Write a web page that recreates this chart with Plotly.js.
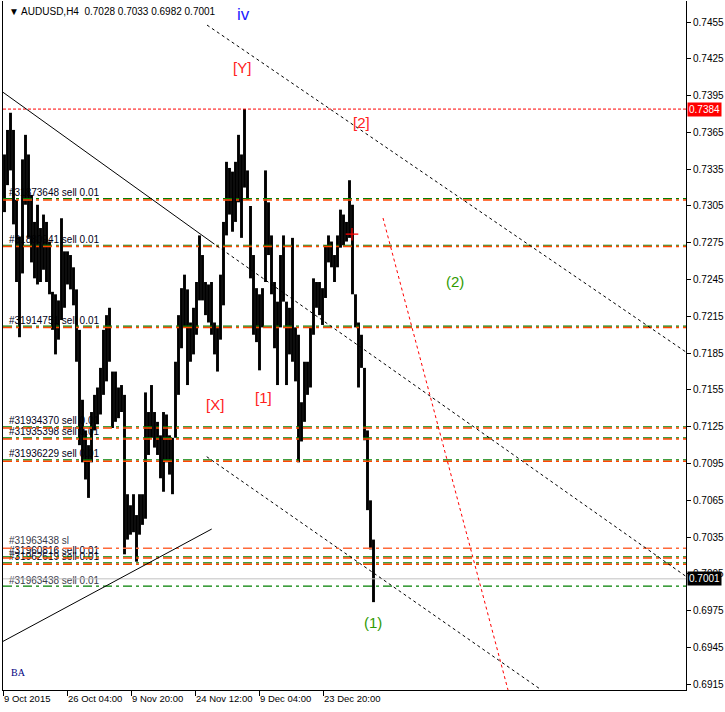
<!DOCTYPE html>
<html><head><meta charset="utf-8">
<script src="https://cdn.plot.ly/plotly-3.0.1.min.js"></script>
<style>html,body{margin:0;padding:0;background:#fff}</style>
</head><body><div id="chart" style="width:725px;height:712px"></div>
<script>
// ---- data (H4 bars grouped 3 per column) ----
const barHigh = [
0.7347,0.7367,0.7381,0.7367,0.7310,0.7280,0.7343,0.7363,0.7347,0.7314,
0.7292,0.7306,0.7287,0.7298,0.7292,0.7276,0.7235,0.7233,0.7228,0.7295,
0.7268,0.7268,0.7265,0.7255,0.7237,0.7204,0.7147,0.7122,0.7110,0.7137,
0.7151,0.7157,0.7173,0.7204,0.7216,0.7222,0.7170,0.7170,0.7157,0.7159,
0.7151,0.7070,0.7061,0.7070,0.7053,0.7070,0.7070,0.7153,0.7137,0.7159,
0.7137,0.7129,0.7118,0.7137,0.7135,0.7118,0.7116,0.7178,0.7216,0.7238,
0.7249,0.7237,0.7210,0.7222,0.7243,0.7281,0.7265,0.7243,0.7241,0.7243,
0.7210,0.7206,0.7249,0.7292,0.7341,0.7336,0.7333,0.7341,0.7363,0.7347,
0.7384,0.7334,0.7305,0.7265,0.7238,0.7233,0.7238,0.7334,0.7308,0.7281,
0.7243,0.7227,0.7265,0.7281,0.7227,0.7222,0.7279,0.7206,0.7200,0.7145,
0.7178,0.7178,0.7206,0.7246,0.7243,0.7243,0.7238,0.7273,0.7281,0.7276,
0.7265,0.7281,0.7302,0.7298,0.7292,0.7326,0.7306,0.7233,0.7210,0.7200,
0.7173,0.7122,0.7065,0.7033];
const barLow = [
0.7300,0.7322,0.7334,0.7290,0.7243,0.7198,0.7250,0.7306,0.7279,0.7259,
0.7246,0.7241,0.7243,0.7253,0.7243,0.7233,0.7204,0.7184,0.7196,0.7212,
0.7222,0.7241,0.7237,0.7224,0.7178,0.7110,0.7096,0.7082,0.7067,0.7096,
0.7122,0.7127,0.7135,0.7151,0.7162,0.7178,0.7124,0.7129,0.7132,0.7137,
0.7021,0.7033,0.7037,0.7039,0.7015,0.7037,0.7045,0.7050,0.7102,0.7116,
0.7108,0.7102,0.7083,0.7072,0.7096,0.7086,0.7070,0.7116,0.7151,0.7189,
0.7206,0.7159,0.7178,0.7184,0.7200,0.7228,0.7228,0.7216,0.7210,0.7200,
0.7184,0.7170,0.7196,0.7224,0.7281,0.7298,0.7284,0.7292,0.7308,0.7279,
0.7320,0.7310,0.7246,0.7200,0.7194,0.7171,0.7206,0.7243,0.7265,0.7233,
0.7189,0.7159,0.7206,0.7227,0.7159,0.7184,0.7178,0.7162,0.7096,0.7113,
0.7129,0.7151,0.7157,0.7200,0.7222,0.7216,0.7208,0.7230,0.7259,0.7255,
0.7243,0.7255,0.7271,0.7273,0.7276,0.7279,0.7233,0.7206,0.7157,0.7173,
0.7114,0.7057,0.7025,0.6982];
const barsPerColumn = 3;

const timeTickBars = [0, 64, 128, 192, 256, 320];
const timeTickLabels = ['9 Oct 2015','26 Oct 04:00','9 Nov 20:00','24 Nov 12:00','9 Dec 04:00','23 Dec 20:00'];
const priceTicks = [0.6915,0.6945,0.6975,0.7005,0.7035,0.7065,0.7095,0.7125,0.7155,0.7185,
                    0.7215,0.7245,0.7275,0.7305,0.7335,0.7365,0.7395,0.7425,0.7455];

const orderLevels = [0.7311,0.7273,0.7207,0.7125,0.7116,0.7098,0.7027,0.7019,0.7014,0.6995];
const orderLabels = ['#31873648 sell 0.01','#31880941 sell 0.01','#31914751 sell 0.01',
  '#31934370 sell 0.01','#31935398 sell 0.01','#31936229 sell 0.01','#31963438 sl',
  '#31960816 sell 0.01','#31962619 sell 0.01','#31963438 sell 0.01'];
const orderHasGreen  = [1,1,1,1,1,1,0,1,1,1];
const orderHasOrange = [1,1,1,1,1,1,1,1,1,0];

const resistancePrice = 0.7384;
const lastPrice = 0.7001;
const ohlcTitle = ['0.7028','0.7033','0.6982','0.7001'];

// trend lines: [barStart, priceStart, barEnd, priceEnd]
const trendSolidTop = [0, 0.73977, 209, 0.72753];
const trendDotMid   = [209, 0.72753, 683, 0.70030];
const trendDotUpper = [204, 0.74525, 683, 0.71859];
const trendDotLower = [203.7, 0.71006, 538.4, 0.69104];
const trendSolidLow = [0, 0.69500, 208.7, 0.70416];
const trendRedSteep = [380, 0.72952, 505, 0.69104];

const waveText  = ['iv','[Y]','[2]','(2)','[X]','[1]','(1)','BA'];
const waveBar   = [240, 239, 358, 452, 212, 260, 370, 15];
const wavePrice = [0.74615,0.74175,0.73734,0.72438,0.71435,0.71492,0.69658,0.69250];

const tradeMarkBar = [349];
const tradeMarkPrice = [0.7282];

// ---- build ----
const bx = [], by = [];
barHigh.forEach((h, k) => {
  const x = k * barsPerColumn + barsPerColumn / 2;
  bx.push(x, x, null); by.push(barLow[k], h, null);
});

const waveColors = ['#2020ff','#ff2020','#ff2020','#2f9a00','#ff2020','#ff2020','#2f9a00','#000080'];
const waveSizes  = [17,15,15,15,15,15,15,10];
const waveFonts  = ['Liberation Sans','Liberation Sans','Liberation Sans','Liberation Sans','Liberation Sans','Liberation Sans','Liberation Sans','Liberation Serif'];

const traces = [
  { type:'scatter', mode:'text', x: orderLevels.map(()=>6), y: orderLevels,
    text: orderLabels, textposition:'top right',
    textfont:{family:'Liberation Sans', size:10,
      color: orderLabels.map(t => t.indexOf('#31963438')===0 ? '#3a3a4a' : '#000018')},
    hoverinfo:'skip', showlegend:false },
  { type:'scatter', mode:'lines', x: bx, y: by, connectgaps:false,
    line:{color:'#000', width:2.9}, hoverinfo:'skip', showlegend:false },
  { type:'scatter', mode:'markers', x: tradeMarkBar, y: tradeMarkPrice,
    marker:{symbol:'cross-thin', size:9, line:{color:'#ff0000', width:1.2}},
    hoverinfo:'skip', showlegend:false }
];

const shapes = [];
const dd = '9px,4px,3px,4px';
orderLevels.forEach((p, i) => {
  if (orderHasGreen[i]) shapes.push({type:'line', xref:'paper', x0:0, x1:1, yref:'y', y0:p, y1:p,
      line:{color:'#008000', width:1.2, dash:dd}});
  if (orderHasOrange[i]) shapes.push({type:'line', xref:'paper', x0:0, x1:1, yref:'y',
      ysizemode:'pixel', yanchor:p, y0:-1.3, y1:-1.3,
      line:{color: orderHasGreen[i] ? '#ff4500' : '#ff6a3a', width:1.5, dash:dd}});
});
shapes.push({type:'line', xref:'paper', x0:0, x1:1, yref:'y', y0:resistancePrice, y1:resistancePrice,
  line:{color:'#ff0000', width:1, dash:'3px,2px'}});
shapes.push({type:'line', xref:'paper', x0:0, x1:1, yref:'y', y0:lastPrice, y1:lastPrice,
  line:{color:'#c0c0c0', width:1}});
function seg(t, color, dash){
  return {type:'line', xref:'x', yref:'y', x0:t[0], y0:t[1], x1:t[2], y1:t[3],
    line:{color:color, width:1, dash:dash}};
}
shapes.push(seg(trendSolidTop,'#000','solid'));
shapes.push(seg(trendDotMid,'#000','3px,3px'));
shapes.push(seg(trendDotUpper,'#000','3px,3px'));
shapes.push(seg(trendDotLower,'#000','3px,3px'));
shapes.push(seg(trendSolidLow,'#000','solid'));
shapes.push(seg(trendRedSteep,'#ff0000','3px,3px'));

const annotations = waveText.map((t, i) => ({
  x: waveBar[i], y: wavePrice[i], xref:'x', yref:'y', text: t, showarrow:false,
  font:{family: waveFonts[i], size: waveSizes[i], color: waveColors[i]}
}));
annotations.push({xref:'paper', yref:'y', x:1, y:resistancePrice, xanchor:'left', xshift:1,
  text:resistancePrice.toFixed(4), showarrow:false, bgcolor:'#ff0000', borderpad:1,
  font:{family:'Liberation Sans', size:10, color:'#fff'}});
annotations.push({xref:'paper', yref:'y', x:1, y:lastPrice, xanchor:'left', xshift:1,
  text:lastPrice.toFixed(4), showarrow:false, bgcolor:'#000', borderpad:1,
  font:{family:'Liberation Sans', size:10, color:'#fff'}});
annotations.push({xref:'paper', yref:'paper', x:0, y:1, xanchor:'left', yanchor:'top', xshift:4, yshift:-3,
  text:'▼ AUDUSD,H4  ' + ohlcTitle.join(' '), showarrow:false,
  font:{family:'Liberation Sans', size:10, color:'#000'}});

const layout = {
  width:725, height:712,
  margin:{l:3, r:39, t:1, b:22, pad:0},
  paper_bgcolor:'#fff', plot_bgcolor:'#fff',
  showlegend:false,
  font:{family:'Liberation Sans', size:10, color:'#000'},
  xaxis:{range:[0,683], tickvals:timeTickBars, ticktext:timeTickLabels, tickangle:0,
    ticks:'outside', ticklen:5, tickcolor:'#000', ticklabelposition:'outside right',
    showgrid:false, zeroline:false, showline:true, linecolor:'#000', linewidth:1,
    tickfont:{family:'Liberation Sans', size:9.5, color:'#000'}, fixedrange:true},
  yaxis:{range:[0.691037,0.747212], side:'right', tickvals:priceTicks, tickformat:'.4f',
    ticks:'outside', ticklen:4, tickcolor:'#000',
    showgrid:false, zeroline:false, showline:true, mirror:true, linecolor:'#000', linewidth:1,
    tickfont:{family:'Liberation Sans', size:10, color:'#000'}, fixedrange:true},
  shapes: shapes,
  annotations: annotations
};

Plotly.newPlot('chart', traces, layout, {staticPlot:true, displayModeBar:false});
</script>
</body></html>
